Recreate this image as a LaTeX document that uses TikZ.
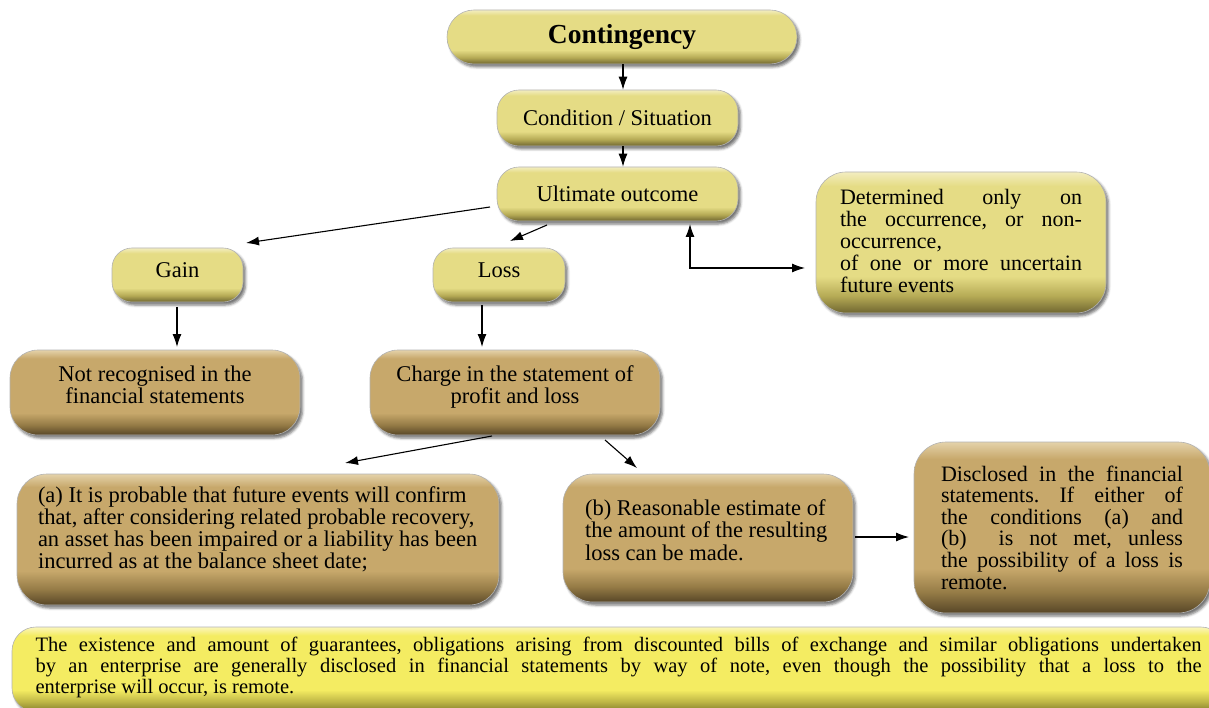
\documentclass[tikz,border=0pt]{standalone}
\usepackage{fontspec}
\setmainfont{Liberation Serif}
\frenchspacing
\usetikzlibrary{arrows.meta,shadows.blur,calc}
\definecolor{yT}{HTML}{F3EDC0}
\definecolor{yM}{HTML}{E5DC85}
\definecolor{yD}{HTML}{B5AA55}
\definecolor{yB}{HTML}{6F6630}
\definecolor{bT}{HTML}{E4D2AA}
\definecolor{bM}{HTML}{C7A86B}
\definecolor{bD}{HTML}{957B46}
\definecolor{bB}{HTML}{574627}
\definecolor{nT}{HTML}{FBF6BC}
\definecolor{nM}{HTML}{F4EC62}
\definecolor{nD}{HTML}{BDB545}
\definecolor{nB}{HTML}{807A2A}
\pgfdeclareverticalshading{yshade}{100bp}{color(0bp)=(yB); color(25bp)=(yB); color(31bp)=(yD); color(38bp)=(yM); color(70bp)=(yM); color(75bp)=(yT); color(100bp)=(yT)}
\pgfdeclareverticalshading{bshade}{100bp}{color(0bp)=(bB); color(25bp)=(bB); color(31bp)=(bD); color(38bp)=(bM); color(70bp)=(bM); color(75bp)=(bT); color(100bp)=(bT)}
\pgfdeclareverticalshading{nshade}{100bp}{color(0bp)=(nB); color(25bp)=(nB); color(31bp)=(nD); color(38bp)=(nM); color(70bp)=(nM); color(75bp)=(nT); color(100bp)=(nT)}
\tikzset{
  pill/.style={shade, shading=#1, draw=gray!60, line width=0.6pt, inner sep=0pt,
    blur shadow={shadow xshift=2.5pt, shadow yshift=-3pt, shadow blur radius=2.5pt, shadow opacity=55},
    font=\rmfamily\fontsize{22.5}{22}\selectfont, text=black},
  arr/.style={line width=1.1pt, -{Latex[length=13pt,width=9pt]}},
  darr/.style={line width=1.1pt, {Latex[length=13pt,width=9pt]}-{Latex[length=13pt,width=9pt]}},
}
\begin{document}
\begin{tikzpicture}[x=1pt,y=-1pt]
\useasboundingbox (0,0) rectangle (1209,708);

% top chain
\node[pill=yshade, minimum width=350, minimum height=54, rounded corners=27] (cont) at (622,37)
  {\fontsize{27.5}{28}\selectfont\bfseries Contingency};
\node[pill=yshade, minimum width=241, minimum height=56, rounded corners=22] (cond) at (617.5,118)
  {Condition / Situation};
\node[pill=yshade, minimum width=241, minimum height=54, rounded corners=22] (ult) at (617.5,194)
  {Ultimate outcome};
\node[pill=yshade, minimum width=290, minimum height=141, rounded corners=30] (det) at (961,242.5)
  {\parbox{242pt}{\fontsize{22}{22}\selectfont
   \makebox[\linewidth][s]{Determined only on}\par
   \makebox[\linewidth][s]{the occurrence, or non-}\par
   occurrence,\par
   \makebox[\linewidth][s]{of one or more uncertain}\par
   future events\par\vspace{4pt}}};

% second level
\node[pill=yshade, minimum width=131, minimum height=54, rounded corners=20] (gain) at (177.5,275)
  {Gain\rule[-9pt]{0pt}{9pt}};
\node[pill=yshade, minimum width=132, minimum height=54, rounded corners=20] (loss) at (499,275)
  {Loss\rule[-9pt]{0pt}{9pt}};
\node[pill=bshade, minimum width=290, minimum height=85, rounded corners=28, align=center] (notrec) at (155,392.5)
  {Not recognised in the\\financial statements\\[-6pt]\mbox{}};
\node[pill=bshade, minimum width=290, minimum height=85, rounded corners=28, align=center] (charge) at (515,392.5)
  {Charge in the statement of\\profit and loss\\[-6pt]\mbox{}};

% third level
\node[pill=bshade, minimum width=482, minimum height=131, rounded corners=30] (a) at (258,539.5)
  {\parbox{440pt}{\fontsize{22.5}{22}\selectfont
   (a) It is probable that future events will confirm\par
   that, after considering related probable recovery,\par
   an asset has been impaired or a liability has been\par
   incurred as at the balance sheet date;\par\vspace{20pt}}};
\node[pill=bshade, minimum width=290, minimum height=128, rounded corners=30] (b) at (708,538)
  {\parbox{246pt}{\fontsize{22.5}{22.5}\selectfont
   (b) Reasonable estimate of\par the amount of the resulting\par loss can be made.\par\vspace{16pt}}};
\node[pill=bshade, minimum width=296, minimum height=171, rounded corners=32] (disc) at (1062,527.5)
  {\parbox{242pt}{\fontsize{22}{21.6}\selectfont
   \makebox[\linewidth][s]{Disclosed in the financial}\par
   \makebox[\linewidth][s]{statements. If either of}\par
   \makebox[\linewidth][s]{the conditions (a) and}\par
   \makebox[\linewidth][s]{(b) \ is not met, unless}\par
   \makebox[\linewidth][s]{the possibility of a loss is}\par
   remote.}};

% note
\node[pill=nshade, minimum width=1213, minimum height=85, rounded corners=24] (note) at (618.5,669.5)
  {\parbox{1166pt}{\fontsize{20.5}{21}\selectfont
   \makebox[\linewidth][s]{The existence and amount of guarantees, obligations arising from discounted bills of exchange and similar obligations undertaken}\par
   \makebox[\linewidth][s]{by an enterprise are generally disclosed in financial statements by way of note, even though the possibility that a loss to the}\par
   enterprise will occur, is remote.\par\vspace{4pt}}};

% connectors
\draw[arr] (cont.south -| 623,0) -- (cond.north -| 623,0);
\draw[arr] (cond.south -| 623,0) -- (ult.north -| 623,0);

\coordinate (ug1) at (490,207); \coordinate (ug2) at (246,243);
\draw[arr] (ug1) -- (ug2);
\coordinate (ul1) at (547,225); \coordinate (ul2) at (510,241);
\draw[arr] (ul1) -- (ul2);

\coordinate (d1) at (690,224); \coordinate (d2) at (690,268); \coordinate (d3) at (805,268);
\draw[darr] (d1) -- (d2) -- (d3);

\coordinate (gn1) at (177,307); \coordinate (gn2) at (177,347);
\draw[arr] (gn1) -- (gn2);
\coordinate (lc1) at (482,305); \coordinate (lc2) at (482,347);
\draw[arr] (lc1) -- (lc2);

\coordinate (ca1) at (492,436); \coordinate (ca2) at (345,463);
\draw[arr] (ca1) -- (ca2);
\coordinate (cb1) at (605,440); \coordinate (cb2) at (637,468);
\draw[arr] (cb1) -- (cb2);

\coordinate (bd1) at (855,537); \coordinate (bd2) at (909,537);
\draw[arr] (bd1) -- (bd2);
\end{tikzpicture}
\end{document}
